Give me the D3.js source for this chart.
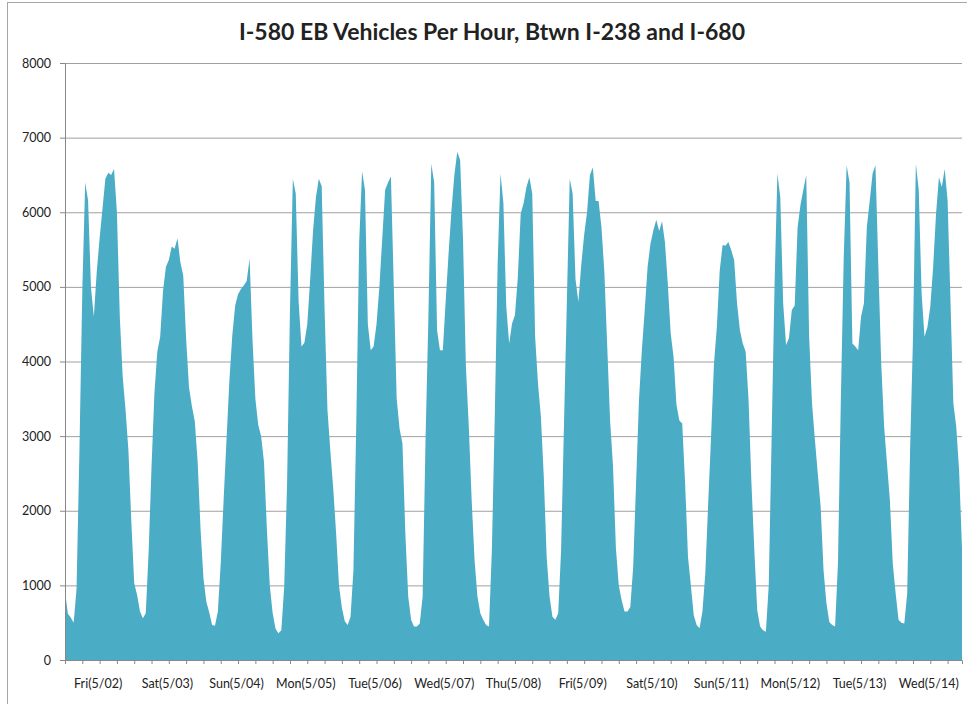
<!DOCTYPE html>
<html>
<head>
<meta charset="utf-8">
<script src="https://cdn.jsdelivr.net/npm/d3@7"></script>
<style>
    body { margin: 0; background: #fff; }
    svg text { font-family: Lato, "Liberation Sans", sans-serif; fill: #222; }
    .title { font-weight: bold; font-size: 23px; }
    .axis text { font-size: 12.5px; }
</style>
</head>
<body>
<div id="chart"></div>
<script>
// day labels, one per 24 hourly readings
var dayLabels = ["Fri(5/02)", "Sat(5/03)", "Sun(5/04)", "Mon(5/05)", "Tue(5/06)", "Wed(5/07)", "Thu(5/08)",
                 "Fri(5/09)", "Sat(5/10)", "Sun(5/11)", "Mon(5/12)", "Tue(5/13)", "Wed(5/14)"];

// vehicles per hour, hour 0..23 of each day
var fri02 = [920, 620, 570, 500, 950, 2800, 4950, 6400, 6160, 5000, 4600, 5200, 5650, 6050, 6450, 6530, 6500, 6580, 6000, 4600, 3800, 3350, 2800, 1850];
var sat03 = [1030, 870, 650, 560, 625, 1450, 2590, 3570, 4130, 4330, 4950, 5270, 5360, 5540, 5510, 5650, 5330, 5150, 4300, 3650, 3400, 3200, 2650, 1750];
var sun04 = [1100, 780, 640, 470, 460, 650, 1300, 2150, 2950, 3750, 4350, 4750, 4900, 4970, 5020, 5080, 5380, 4300, 3500, 3150, 3000, 2650, 1750, 1000];
var mon05 = [625, 420, 360, 400, 980, 2370, 4690, 6450, 6250, 4800, 4200, 4250, 4500, 5100, 5750, 6200, 6450, 6350, 4700, 3350, 2800, 2300, 1700, 1000];
var tue06 = [700, 520, 470, 580, 1200, 3200, 5600, 6550, 6300, 4500, 4150, 4200, 4500, 5000, 5650, 6300, 6400, 6480, 5000, 3500, 3100, 2900, 1700, 850];
var wed07 = [540, 450, 450, 490, 850, 2950, 4600, 6650, 6400, 4420, 4150, 4150, 4820, 5450, 6030, 6500, 6810, 6700, 5630, 3930, 3130, 2140, 1340, 850];
var thu08 = [625, 540, 470, 450, 1470, 3260, 5310, 6520, 6120, 4730, 4240, 4510, 4620, 5130, 5980, 6120, 6340, 6470, 6250, 4330, 3700, 3260, 2460, 1380];
var fri09 = [850, 580, 540, 625, 1470, 3150, 4800, 6450, 6250, 5100, 4800, 5300, 5700, 6000, 6500, 6600, 6150, 6150, 5800, 5200, 4200, 3200, 2600, 1500];
var sat10 = [1000, 800, 650, 650, 710, 1250, 2370, 3480, 4150, 4690, 5270, 5580, 5760, 5900, 5750, 5880, 5600, 5040, 4380, 4060, 3420, 3210, 3170, 2370];
var sun11 = [1380, 1000, 600, 470, 425, 650, 1160, 2100, 2990, 3970, 4460, 5220, 5560, 5550, 5600, 5490, 5360, 4780, 4420, 4240, 4130, 3480, 2370, 1470];
var mon12 = [670, 450, 400, 380, 1000, 3000, 5010, 6520, 6200, 4780, 4220, 4310, 4690, 4750, 5800, 6100, 6300, 6500, 4330, 3440, 2950, 2500, 2050, 1200];
var tue13 = [760, 510, 470, 450, 1300, 3500, 5400, 6630, 6400, 4240, 4200, 4150, 4600, 4780, 5800, 6150, 6520, 6630, 5270, 3970, 3130, 2630, 2140, 1290];
var wed14 = [890, 540, 500, 490, 890, 2810, 4300, 6650, 6300, 4910, 4330, 4460, 4730, 5270, 5980, 6470, 6340, 6580, 6160, 4820, 3440, 3130, 2540, 1500];

var yTicks = [0, 1000, 2000, 3000, 4000, 5000, 6000, 7000, 8000];

var hourly = [].concat(fri02, sat03, sun04, mon05, tue06, wed07, thu08, fri09, sat10, sun11, mon12, tue13, wed14);

var width = 967, height = 704;
var margin = { top: 63, right: 5, bottom: 44, left: 65 };

var svg = d3.select("#chart").append("svg")
    .attr("width", width)
    .attr("height", height);

// chart frame
svg.append("rect")
    .attr("x", 7.5).attr("y", 2.5)
    .attr("width", width + 20).attr("height", height + 20)
    .attr("fill", "none")
    .attr("stroke", "#a6a6a6");

svg.append("text")
    .attr("class", "title")
    .attr("x", 492)
    .attr("y", 40)
    .attr("text-anchor", "middle")
    .text("I-580 EB Vehicles Per Hour, Btwn I-238 and I-680");

var x = d3.scaleLinear()
    .domain([0, hourly.length - 1])
    .range([margin.left, width - margin.right]);

var y = d3.scaleLinear()
    .domain([0, 8000])
    .range([height - margin.bottom, margin.top]);

// gridlines (behind the area)
svg.append("g")
    .attr("transform", "translate(" + margin.left + ",0)")
    .call(d3.axisLeft(y).tickValues(yTicks).tickSize(-(x.range()[1] - margin.left)).tickFormat(""))
    .call(function (g) {
        g.select(".domain").remove();
        g.selectAll("line").attr("stroke", "#a0a0a0");
    });

var area = d3.area()
    .x(function (d, i) { return x(i); })
    .y0(y(0))
    .y1(function (d) { return y(d); });

svg.append("path")
    .datum(hourly)
    .attr("d", area)
    .attr("fill", "#4bacc6");

// y axis
svg.append("g")
    .attr("class", "axis")
    .attr("transform", "translate(" + margin.left + ",0)")
    .call(d3.axisLeft(y).tickValues(yTicks).tickSize(5).tickPadding(9).tickFormat(d3.format("d")))
    .call(function (g) {
        g.select(".domain").attr("stroke", "#888");
        g.selectAll("line").attr("stroke", "#888");
    });

// x axis: tick every 6 hours, day label at noon
var xAxisG = svg.append("g")
    .attr("class", "axis")
    .attr("transform", "translate(0," + y(0) + ")")
    .call(d3.axisBottom(x).tickValues(d3.range(0, hourly.length, 6)).tickSize(4).tickFormat(""))
    .call(function (g) {
        g.select(".domain").attr("stroke", "#888");
        g.selectAll("line").attr("stroke", "#888");
    });

xAxisG.selectAll(".day-label")
    .data(dayLabels)
    .enter().append("text")
    .attr("class", "day-label")
    .attr("x", function (d, i) { return x(i * 24 + 11.5); })
    .attr("y", 28)
    .attr("text-anchor", "middle")
    .text(function (d) { return d; });
</script>
</body>
</html>
